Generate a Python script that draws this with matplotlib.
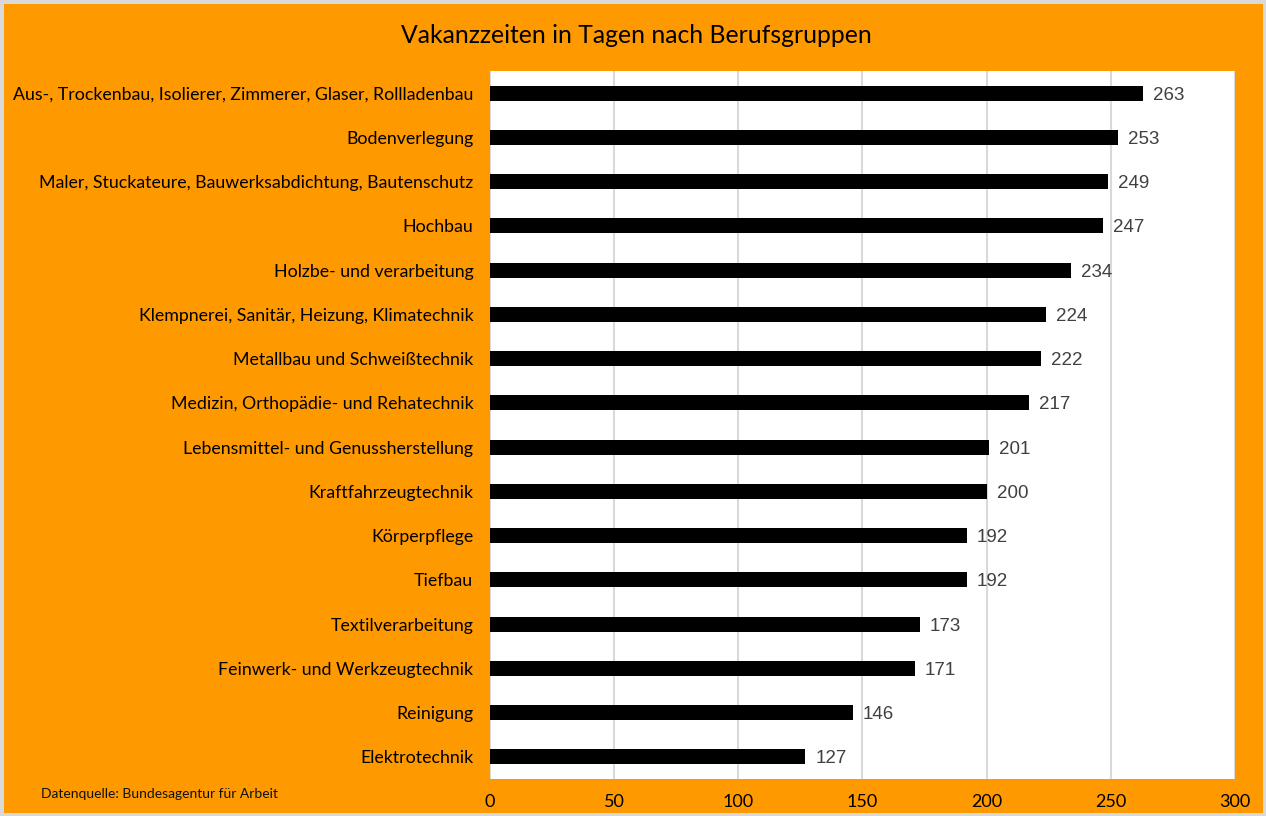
import matplotlib.pyplot as plt
import numpy as np

categories = [
    "Aus-, Trockenbau, Isolierer, Zimmerer, Glaser, Rollladenbau",
    "Bodenverlegung",
    "Maler, Stuckateure, Bauwerksabdichtung, Bautenschutz",
    "Hochbau",
    "Holzbe- und verarbeitung",
    "Klempnerei, Sanitär, Heizung, Klimatechnik",
    "Metallbau und Schweißtechnik",
    "Medizin, Orthopädie- und Rehatechnik",
    "Lebensmittel- und Genussherstellung",
    "Kraftfahrzeugtechnik",
    "Körperpflege",
    "Tiefbau",
    "Textilverarbeitung",
    "Feinwerk- und Werkzeugtechnik",
    "Reinigung",
    "Elektrotechnik",
]
values = [263, 253, 249, 247, 234, 224, 222, 217, 201, 200, 192, 192, 173, 171, 146, 127]
xticks = [0, 50, 100, 150, 200, 250, 300]

orange = "#FF9900"
font = ["Lato", "DejaVu Sans"]

fig = plt.figure(figsize=(12.66, 8.16), dpi=100, facecolor=orange,
                 edgecolor="#d9d9d9", linewidth=5)
ax = fig.add_axes([0.387, 0.0453, 0.5885, 0.8677])

y = np.arange(len(categories))
ax.barh(y, values, height=0.34, color="black", zorder=3)
for yi, v in zip(y, values):
    ax.text(v + 4, yi, str(v), va="center_baseline", ha="left", fontsize=13.5,
            color="#404040", family=["Liberation Sans", "DejaVu Sans"])

ax.set_ylim(len(categories) - 0.5, -0.5)
ax.set_xlim(0, 300)
ax.set_yticks(y)
ax.set_yticklabels(categories, family=font, fontsize=12.8)
ax.set_xticks(xticks)
ax.set_xticklabels([str(t) for t in xticks], family=font, fontsize=13)
ax.tick_params(length=0, pad=11)
ax.tick_params(axis="y", pad=12)
ax.xaxis.grid(True, color="#d9d9d9", linewidth=1.5, zorder=0)
for s in ax.spines.values():
    s.set_visible(False)

fig.suptitle("Vakanzzeiten in Tagen nach Berufsgruppen", x=0.503, y=0.957,
             va="center", fontsize=17.8, family=font)
fig.text(0.032, 0.022, "Datenquelle: Bundesagentur für Arbeit", fontsize=10,
         family=font, color="#111111")

fig.savefig("out.png", dpi=100, facecolor=orange, edgecolor="#d9d9d9")
